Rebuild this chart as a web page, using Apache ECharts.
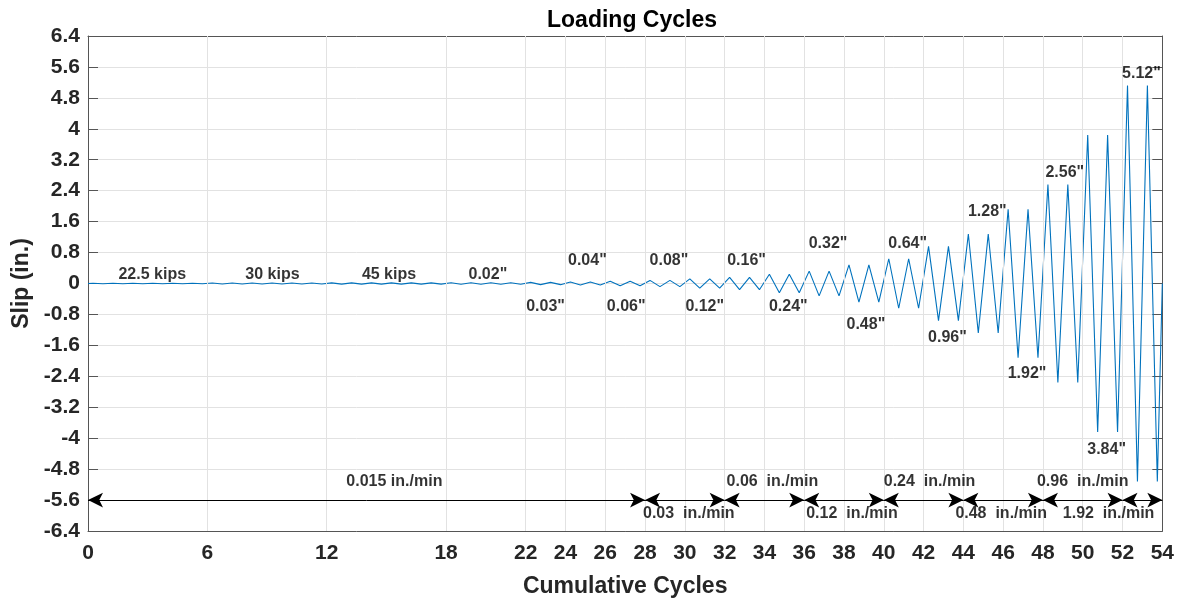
<!DOCTYPE html>
<html>
<head>
<meta charset="utf-8">
<script src="https://cdn.jsdelivr.net/npm/echarts@6/dist/echarts.min.js"></script>
<style>
  html, body { margin: 0; padding: 0; background: #fff; }
  #chart { width: 1177px; height: 603px; }
</style>
</head>
<body>
<div id="chart"></div>
<script>
// slip amplitude of each loading cycle (in.), cycles 0..53
const cycleAmp = [
  0.008, 0.008, 0.008, 0.008, 0.008, 0.008,
  0.012, 0.012, 0.012, 0.012, 0.012, 0.012,
  0.016, 0.016, 0.016, 0.016, 0.016, 0.016,
  0.02, 0.02, 0.02, 0.02,
  0.03, 0.03, 0.04, 0.04, 0.06, 0.06, 0.08, 0.08,
  0.12, 0.12, 0.16, 0.16, 0.24, 0.24, 0.32, 0.32,
  0.48, 0.48, 0.64, 0.64, 0.96, 0.96, 1.28, 1.28,
  1.92, 1.92, 2.56, 2.56, 3.84, 3.84, 5.12, 5.12
];

const xTicks = [0, 6, 12, 18, 22, 24, 26, 28, 30, 32, 34, 36, 38, 40, 42, 44, 46, 48, 50, 52, 54];

// amplitude labels
const ampText = ['0.02"', '0.04"', '0.08"', '0.16"', '0.32"', '0.64"', '1.28"', '2.56"', '5.12"',
                 '0.03"', '0.06"', '0.12"', '0.24"', '0.48"', '0.96"', '1.92"', '3.84"'];
const ampX = [20.1, 25.1, 29.2, 33.1, 37.2, 41.2, 45.2, 49.1, 52.95,
              23.0, 27.05, 31.0, 35.2, 39.1, 43.2, 47.2, 51.2];
const ampY = [0.23, 0.59, 0.59, 0.59, 1.02, 1.02, 1.86, 2.86, 5.43,
              -0.59, -0.59, -0.59, -0.59, -1.05, -1.40, -2.32, -4.29];

// load-controlled stage labels
const loadText = ['22.5 kips', '30 kips', '45 kips'];
const loadX = [3.23, 9.27, 15.13];
const loadY = [0.23, 0.23, 0.23];

// loading rate labels and arrow segments
const rateText = ['0.015 in./min', '0.03  in./min', '0.06  in./min', '0.12  in./min',
                  '0.24  in./min', '0.48  in./min', '0.96  in./min', '1.92  in./min'];
const rateX = [15.4, 30.2, 34.4, 38.4, 42.3, 45.9, 50.0, 51.3];
const rateY = [-5.13, -5.94, -5.13, -5.94, -5.13, -5.94, -5.13, -5.94];
const rateBounds = [0, 28, 32, 36, 40, 44, 48, 52, 54];
const arrowY = -5.6;

let slipPts = [[0, 0]];
cycleAmp.forEach((a, i) => {
  slipPts.push([i + 0.25, a], [i + 0.75, -a]);
});
slipPts.push([54, 0]);

const textLabel = (txt, xs, ys) => txt.map((t, i) => ({ name: t, value: [xs[i], ys[i]] }));
const labels = textLabel(ampText, ampX, ampY)
  .concat(textLabel(loadText, loadX, loadY))
  .concat(textLabel(rateText, rateX, rateY));

let arrows = [];
for (let i = 0; i < rateBounds.length - 1; i++) {
  arrows.push([{ coord: [rateBounds[i], arrowY] }, { coord: [rateBounds[i + 1], arrowY] }]);
}

const axisColor = '#555';
const labelColor = '#262626';
const gridColor = '#e2e2e2';
const font = 'Liberation Sans, Arial, sans-serif';

let chart = echarts.init(document.getElementById('chart'));
chart.setOption({
  animation: false,
  title: {
    text: 'Loading Cycles',
    left: 627,
    textAlign: 'center',
    top: 4,
    textStyle: { fontFamily: font, fontSize: 23, fontWeight: 'bold', color: '#000' },
  },
  grid: { left: 88, right: 11, top: 36, bottom: 65, containLabel: false },
  xAxis: [
    {
      type: 'value',
      min: 0,
      max: 54,
      name: 'Cumulative Cycles',
      nameLocation: 'middle',
      nameGap: 44,
      nameTextStyle: { fontFamily: font, fontSize: 23, fontWeight: 'bold', color: labelColor },
      axisLine: { show: true, onZero: false, lineStyle: { color: axisColor, width: 1 } },
      axisTick: { show: true, inside: true, length: 10, customValues: xTicks, lineStyle: { color: axisColor } },
      axisLabel: {
        customValues: xTicks,
        margin: 12,
        fontFamily: font, fontSize: 21, fontWeight: 'bold', color: labelColor,
      },
      splitLine: { show: false },
    },
    {
      type: 'value',
      min: 0,
      max: 54,
      position: 'top',
      axisLine: { show: true, onZero: false, lineStyle: { color: axisColor, width: 1 } },
      axisTick: { show: true, inside: true, length: 10, customValues: xTicks, lineStyle: { color: axisColor } },
      axisLabel: { show: false },
      splitLine: { show: false },
    },
  ],
  yAxis: [
    {
      type: 'value',
      min: -6.4,
      max: 6.4,
      interval: 0.8,
      name: 'Slip (in.)',
      nameLocation: 'middle',
      nameGap: 50,
      nameTextStyle: { fontFamily: font, fontSize: 23, fontWeight: 'bold', color: labelColor },
      axisLine: { show: true, onZero: false, lineStyle: { color: axisColor, width: 1 } },
      axisTick: { show: true, inside: true, length: 10, lineStyle: { color: axisColor } },
      axisLabel: {
        margin: 8,
        fontFamily: font, fontSize: 21, fontWeight: 'bold', color: labelColor,
        formatter: v => String(Math.round(v * 10) / 10),
      },
      splitLine: { show: true, lineStyle: { color: gridColor, width: 1 } },
    },
    {
      type: 'value',
      min: -6.4,
      max: 6.4,
      interval: 0.8,
      position: 'right',
      axisLine: { show: true, onZero: false, lineStyle: { color: axisColor, width: 1 } },
      axisTick: { show: true, inside: true, length: 10, lineStyle: { color: axisColor } },
      axisLabel: { show: false },
      splitLine: { show: false },
    },
  ],
  series: [
    {
      // vertical grid lines at the tick positions
      type: 'line',
      data: [],
      z: 1,
      silent: true,
      markLine: {
        silent: true,
        symbol: 'none',
        label: { show: false },
        lineStyle: { color: gridColor, width: 1, type: 'solid' },
        data: xTicks.filter(v => v > 0 && v < 54).map(v => ({ xAxis: v })),
      },
    },
    {
      name: 'Slip',
      type: 'line',
      data: slipPts,
      z: 3,
      symbol: 'none',
      lineStyle: { color: '#0072BD', width: 1.1 },
    },
    {
      // loading rate arrows
      type: 'line',
      data: [],
      z: 4,
      silent: true,
      markLine: {
        silent: true,
        symbol: ['arrow', 'arrow'],
        symbolSize: [11, 15],
        label: { show: false },
        lineStyle: { color: '#000', width: 1, type: 'solid' },
        itemStyle: { color: '#000' },
        data: arrows,
      },
    },
    {
      type: 'scatter',
      data: labels,
      z: 5,
      silent: true,
      symbolSize: 1,
      itemStyle: { color: 'rgba(0,0,0,0)' },
      label: {
        show: true,
        position: 'inside',
        formatter: p => p.name,
        fontFamily: font, fontSize: 16, fontWeight: 'bold', color: '#000',
      },
    },
  ],
});
window.addEventListener('resize', function () {
  chart.resize();
});
</script>
</body>
</html>
